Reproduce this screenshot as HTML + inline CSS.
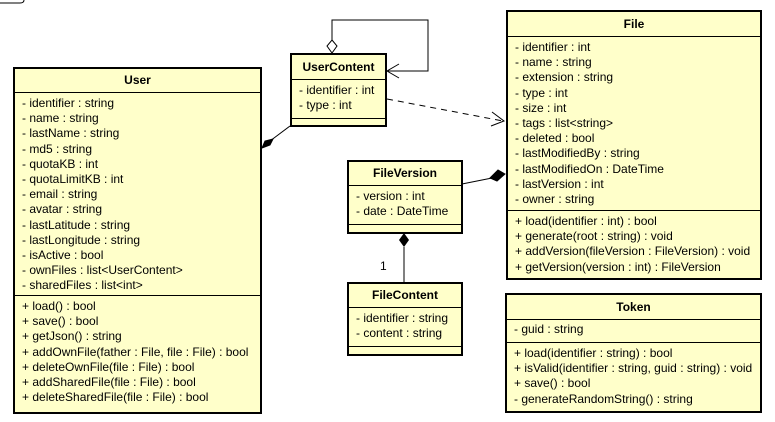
<!DOCTYPE html>
<html><head><style>
body{margin:0;width:775px;height:422px;background:#fff;position:relative;overflow:hidden;font-family:"Liberation Sans",Arial,sans-serif;font-size:12px;color:#000}
.b{position:absolute;box-sizing:border-box;border:2px solid #000;background:#ffffca}
.t{font-weight:bold;text-align:center;box-sizing:border-box;border-bottom:1px solid #000;line-height:20px}
.s{box-sizing:border-box;padding:3px 0 0 7px;line-height:15.2px;white-space:nowrap}
.s+.s{border-top:1px solid #000}
svg{position:absolute;left:0;top:0}
</style></head><body>
<svg width="775" height="422">
<path d="M0 3 H20 Q24 3 24 0" fill="none" stroke="#000"/>
<polyline points="332,40 332,20 428,20 428,71 387,71" fill="none" stroke="#000"/>
<polygon points="332,40 337,46 332,53 327,46" fill="#fff" stroke="#000"/>
<polyline points="399,64 387,71 399,78" fill="none" stroke="#000"/>
<line x1="387" y1="99" x2="503" y2="121" stroke="#000" stroke-dasharray="6,5"/>
<polyline points="492,112 504,121 491,126" fill="none" stroke="#000"/>
<line x1="290" y1="126" x2="270" y2="141" stroke="#000"/>
<polygon points="262,148 265,141 273,139 270,145" fill="#000" stroke="#000"/>
<line x1="462" y1="184" x2="492" y2="178" stroke="#000"/>
<polygon points="505,174 498,170 490,178 497,181" fill="#000" stroke="#000"/>
<line x1="404" y1="247" x2="404" y2="282" stroke="#000"/>
<polygon points="404,233 409,240 404,247 399,240" fill="#000"/>
<text x="380" y="270" font-family="Liberation Sans,sans-serif" font-size="12">1</text>
</svg>

<div class="b" style="left:13px;top:67px;width:249px;height:347px">
<div class="t" style="height:24px;line-height:22px">User</div>
<div class="s" style="height:202px">- identifier : string<br>- name : string<br>- lastName : string<br>- md5 : string<br>- quotaKB : int<br>- quotaLimitKB : int<br>- email : string<br>- avatar : string<br>- lastLatitude : string<br>- lastLongitude : string<br>- isActive : bool<br>- ownFiles : list&lt;UserContent&gt;<br>- sharedFiles : list&lt;int&gt;</div>
<div class="s" style="height:117px">+ load() : bool<br>+ save() : bool<br>+ getJson() : string<br>+ addOwnFile(father : File, file : File) : bool<br>+ deleteOwnFile(file : File) : bool<br>+ addSharedFile(file : File) : bool<br>+ deleteSharedFile(file : File) : bool</div>
</div>

<div class="b" style="left:290px;top:53px;width:97px;height:74px">
<div class="t" style="height:25px;line-height:24px">UserContent</div>
<div class="s" style="height:38px">- identifier : int<br>- type : int</div>
<div class="s" style="height:9px"></div>
</div>

<div class="b" style="left:506px;top:10px;width:256px;height:270px">
<div class="t" style="height:25px;line-height:24px">File</div>
<div class="s" style="height:173px">- identifier : int<br>- name : string<br>- extension : string<br>- type : int<br>- size : int<br>- tags : list&lt;string&gt;<br>- deleted : bool<br>- lastModifiedBy : string<br>- lastModifiedOn : DateTime<br>- lastVersion : int<br>- owner : string</div>
<div class="s" style="height:68px">+ load(identifier : int) : bool<br>+ generate(root : string) : void<br>+ addVersion(fileVersion : FileVersion) : void<br>+ getVersion(version : int) : FileVersion</div>
</div>

<div class="b" style="left:347px;top:160px;width:116px;height:74px">
<div class="t" style="height:24px;line-height:23px">FileVersion</div>
<div class="s" style="height:38px">- version : int<br>- date : DateTime</div>
<div class="s" style="height:9px"></div>
</div>

<div class="b" style="left:347px;top:282px;width:116px;height:74px">
<div class="t" style="height:24px;line-height:23px">FileContent</div>
<div class="s" style="height:38px">- identifier : string<br>- content : string</div>
<div class="s" style="height:9px"></div>
</div>

<div class="b" style="left:505px;top:293px;width:257px;height:120px">
<div class="t" style="height:25px;line-height:24px">Token</div>
<div class="s" style="height:22px;padding-top:2px">- guid : string</div>
<div class="s" style="height:70px">+ load(identifier : string) : bool<br>+ isValid(identifier : string, guid : string) : void<br>+ save() : bool<br>- generateRandomString() : string</div>
</div>
</body></html>
